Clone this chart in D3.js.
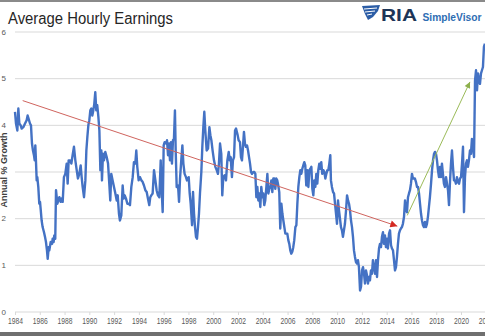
<!DOCTYPE html>
<html><head><meta charset="utf-8">
<script src="https://cdn.jsdelivr.net/npm/d3@7"></script>
<style>body{margin:0;background:#fff}svg{display:block}</style>
</head><body><svg id="c" width="485" height="336"></svg>
<script>
const years = [
1984.00,1984.08,1984.19,1984.27,1984.35,1984.46,1984.54,1984.67,1984.81,1984.94,
1985.02,1985.10,1985.21,1985.29,1985.37,1985.45,1985.53,1985.59,1985.64,1985.69,1985.75,1985.80,1985.88,1985.96,
1986.02,1986.07,1986.15,1986.23,1986.34,1986.42,1986.50,1986.58,1986.64,1986.72,1986.77,1986.88,1986.99,
1987.04,1987.12,1987.17,1987.25,1987.31,1987.42,1987.50,1987.58,1987.69,1987.77,1987.85,1987.95,
1988.06,1988.17,1988.25,1988.33,1988.44,1988.55,1988.65,1988.76,1988.87,1988.98,
1989.08,1989.19,1989.30,1989.38,1989.46,1989.57,1989.68,1989.76,1989.84,1989.92,
1990.00,1990.08,1990.16,1990.24,1990.32,1990.40,1990.48,1990.56,1990.64,1990.73,1990.81,1990.89,1990.97,
1991.02,1991.10,1991.18,1991.29,1991.40,1991.51,1991.61,1991.69,1991.77,1991.88,1991.99,
1992.10,1992.21,1992.29,1992.39,1992.47,1992.58,1992.69,1992.77,1992.85,1992.96,
1993.07,1993.17,1993.28,1993.39,1993.50,1993.60,1993.71,1993.79,1993.87,1993.98,
1994.09,1994.20,1994.30,1994.41,1994.52,1994.63,1994.73,1994.84,1994.92,
1995.00,1995.11,1995.22,1995.33,1995.43,1995.54,1995.65,1995.76,1995.84,1995.92,
1996.00,1996.08,1996.19,1996.27,1996.35,1996.43,1996.51,1996.59,1996.67,1996.75,1996.83,1996.91,1996.97,
1997.05,1997.16,1997.24,1997.32,1997.42,1997.51,1997.59,1997.69,1997.80,1997.88,
1998.02,1998.10,1998.18,1998.29,1998.37,1998.45,1998.53,1998.61,1998.69,1998.77,1998.85,1998.93,
1999.04,1999.12,1999.20,1999.28,1999.36,1999.47,1999.58,1999.69,1999.77,1999.85,1999.95,
2000.06,2000.17,2000.28,2000.38,2000.46,2000.55,2000.65,2000.73,2000.81,2000.92,
2001.03,2001.14,2001.25,2001.33,2001.41,2001.51,2001.59,2001.68,2001.76,2001.84,2001.97,
2002.05,2002.16,2002.24,2002.32,2002.40,2002.48,2002.56,2002.64,2002.73,2002.81,2002.89,2002.97,
2003.05,2003.13,2003.24,2003.32,2003.40,2003.48,2003.56,2003.64,2003.72,2003.80,2003.88,2003.96,
2004.04,2004.12,2004.20,2004.29,2004.37,2004.45,2004.53,2004.61,2004.69,2004.77,2004.85,2004.93,
2005.01,2005.09,2005.17,2005.25,2005.33,2005.41,2005.50,2005.58,2005.66,2005.74,2005.82,2005.90,2005.98,
2006.06,2006.14,2006.22,2006.30,2006.38,2006.46,2006.54,2006.63,2006.71,2006.79,2006.87,2006.95,
2007.03,2007.11,2007.19,2007.27,2007.35,2007.43,2007.51,2007.59,2007.68,2007.76,2007.84,2007.92,
2008.00,2008.08,2008.16,2008.24,2008.32,2008.40,2008.48,2008.56,2008.64,2008.72,2008.80,2008.89,2008.97,
2009.05,2009.13,2009.21,2009.29,2009.37,2009.45,2009.50,2009.58,2009.67,2009.75,2009.83,2009.91,2009.99,
2010.07,2010.15,2010.23,2010.31,2010.39,2010.47,2010.55,2010.63,2010.72,2010.80,2010.88,2010.96,
2011.04,2011.12,2011.20,2011.28,2011.36,2011.44,2011.52,2011.60,2011.68,2011.76,2011.85,2011.93,
2012.01,2012.09,2012.17,2012.25,2012.33,2012.41,2012.49,2012.57,2012.65,2012.73,2012.81,2012.89,2012.97,
2013.06,2013.14,2013.22,2013.30,2013.38,2013.46,2013.54,2013.62,2013.70,2013.78,2013.86,2013.94,
2014.02,2014.10,2014.19,2014.27,2014.35,2014.43,2014.51,2014.59,2014.67,2014.75,2014.83,2014.91,2014.99,
2015.07,2015.15,2015.23,2015.31,2015.40,2015.48,2015.56,2015.64,2015.72,2015.80,2015.88,2015.96,
2016.04,2016.12,2016.20,2016.28,2016.36,2016.45,2016.53,2016.61,2016.69,2016.77,2016.85,2016.93,
2017.01,2017.09,2017.17,2017.25,2017.33,2017.41,2017.49,2017.58,2017.66,2017.74,2017.82,2017.90,2017.98,
2018.06,2018.14,2018.22,2018.30,2018.38,2018.46,2018.54,2018.62,2018.70,2018.79,2018.87,2018.95,
2019.03,2019.11,2019.19,2019.27,2019.35,2019.43,2019.51,2019.59,2019.67,2019.75,2019.84,2019.92,
2020.00,2020.08,2020.16,2020.24,2020.32,2020.40,2020.48,2020.56,2020.64,2020.72,2020.80,2020.88,2020.96,
2021.05,2021.13,2021.21,2021.29,2021.37,2021.45,2021.53,2021.61,2021.69,2021.77,2021.85,2021.93
];
const values = [
4.29,4.04,3.89,4.36,4.04,4.0,3.93,3.96,4.04,4.11,
4.21,4.14,4.04,4.0,3.61,3.46,3.36,3.25,3.57,3.25,2.82,2.89,2.68,2.32,
2.36,2.21,1.96,1.82,1.71,1.61,1.5,1.32,1.14,1.39,1.32,1.5,1.46,
1.57,1.5,1.64,1.57,2.61,2.32,2.39,2.46,2.36,2.43,2.36,2.89,
2.96,3.18,2.75,3.25,3.25,3.18,3.36,3.54,3.25,3.04,
2.86,2.96,3.14,2.89,2.68,2.46,2.82,3.46,3.75,4.0,
4.11,4.32,4.36,4.21,4.32,4.46,4.71,4.32,4.43,4.18,3.89,3.04,3.46,
2.82,3.39,3.25,3.43,3.32,3.18,2.75,2.39,2.96,2.82,2.68,
2.54,2.39,2.5,2.11,1.96,2.07,2.71,2.43,2.5,2.43,
2.32,2.32,2.29,2.68,2.89,3.21,3.18,3.46,3.11,2.82,
2.89,2.82,2.79,2.71,2.61,2.57,2.43,2.29,2.46,
2.5,2.54,3.04,2.82,2.61,2.5,2.46,3.25,2.61,2.14,
3.57,3.64,3.61,3.68,3.36,3.61,3.25,3.64,3.18,3.68,3.71,4.32,3.46,
2.68,2.71,2.36,2.86,3.25,3.57,3.18,2.96,2.89,2.82,
2.89,2.54,2.32,1.86,2.57,2.11,1.82,1.61,1.57,1.82,2.11,2.54,
3.0,3.54,3.96,4.29,3.89,3.46,3.5,3.96,3.79,3.68,3.46,
3.25,3.11,3.04,2.96,3.18,3.61,3.39,2.5,2.89,2.93,
2.82,3.25,3.43,3.25,3.32,2.89,3.25,3.32,3.89,3.93,3.79,
3.68,3.64,3.32,3.25,3.54,3.86,3.61,3.54,3.57,3.46,3.32,3.18,
3.0,2.96,3.0,3.0,2.96,2.46,2.68,2.39,2.54,2.25,2.68,2.46,
2.54,2.29,2.39,2.68,2.96,2.54,2.64,2.68,2.82,2.57,2.86,2.86,
2.64,2.86,2.82,2.71,2.57,1.79,2.32,2.11,1.96,1.82,1.68,1.68,1.68,
1.54,1.46,1.32,1.25,1.29,1.39,1.54,1.82,1.86,2.32,2.68,2.89,
3.04,2.96,3.07,3.14,3.21,3.14,2.71,3.04,2.68,3.04,3.07,3.11,
2.64,2.5,2.82,2.68,2.96,2.75,3.04,3.18,3.07,3.21,2.96,3.04,3.0,
2.86,2.96,3.04,3.04,3.18,3.36,2.82,2.68,2.57,2.54,2.32,2.11,1.89,
2.39,2.18,2.0,1.82,1.75,1.61,1.75,1.89,2.18,2.5,2.39,2.32,
2.18,1.96,1.82,1.61,1.32,1.18,1.07,1.04,1.11,0.96,0.46,0.54,
0.89,0.96,0.82,0.61,0.89,0.79,0.61,0.75,0.68,0.89,0.82,1.11,0.96,
0.82,1.11,0.75,1.11,1.36,1.46,1.39,1.61,1.71,1.46,1.64,1.39,
1.57,1.36,1.68,1.75,1.43,1.36,1.32,1.11,0.89,0.96,1.18,1.46,1.68,
1.75,1.79,1.82,1.89,2.04,2.39,2.18,2.14,2.46,2.54,2.61,2.75,
2.96,2.86,2.86,2.86,2.79,2.68,2.68,2.54,2.32,2.11,1.96,1.86,
1.82,1.93,1.82,1.89,2.04,2.25,2.46,2.75,3.04,3.25,3.39,3.43,3.39,
3.25,3.04,2.89,3.11,2.89,3.18,2.96,2.75,2.68,2.89,2.75,2.61,
2.29,2.79,3.18,3.46,3.11,2.82,2.82,2.75,2.89,2.79,2.75,2.86,
2.89,3.18,3.54,2.14,2.89,3.18,3.25,3.11,3.25,3.46,3.39,3.71,3.54,
3.32,4.96,5.18,4.75,5.11,4.96,4.89,5.11,5.18,5.25,5.68,5.75
];
const yTicks = [0,1,2,3,4,5,6];
const xTicks = d3.range(1984, 2023, 2);
const downTrendYears = [1984.62, 2014.86];
const downTrendValues = [4.53, 1.84];
const upTrendYears = [2015.66, 2020.72];
const upTrendValues = [2.07, 4.93];

const svg = d3.select("#c");
const x = d3.scaleLinear().domain([1984, 2022]).range([15, 485.8]);
const y = d3.scaleLinear().domain([0, 6]).range([312, 32]);

// frame bands
svg.append("rect").attr("x",0).attr("y",0).attr("width",485).attr("height",2).attr("fill","#8a8a8a");
svg.append("rect").attr("x",0).attr("y",332).attr("width",485).attr("height",4).attr("fill","#6f6f6f");

// gridlines
svg.append("g").selectAll("line").data(yTicks).join("line")
  .attr("x1",15).attr("x2",485).attr("y1",d=>y(d)).attr("y2",d=>y(d))
  .attr("stroke","#d9d9d9").attr("stroke-width",1);

// y tick labels
svg.append("g").selectAll("text").data(yTicks).join("text")
  .attr("x",3.8).attr("y",d=>y(d)).attr("dy","0.35em")
  .attr("text-anchor","middle").attr("font-family","Liberation Sans, Arial, sans-serif")
  .attr("font-size",8).attr("fill","#595959").text(d=>d);

// x axis
const xAxis = d3.axisBottom(x).tickValues(xTicks).tickFormat(d3.format("d")).tickSize(3).tickPadding(3);
const gx = svg.append("g").attr("transform","translate(0,312)").call(xAxis);
gx.select(".domain").remove();
gx.selectAll(".tick line").attr("stroke","#d9d9d9");
gx.selectAll(".tick text").attr("font-family","Liberation Sans, Arial, sans-serif")
  .attr("font-size",9).attr("fill","#595959").attr("textLength",15).attr("lengthAdjust","spacingAndGlyphs");

// markers
const defs = svg.append("defs");
function mk(id, color, w, h){
  defs.append("marker").attr("id",id).attr("viewBox","0 0 10 10").attr("refX",10).attr("refY",5)
    .attr("markerWidth",w).attr("markerHeight",h).attr("markerUnits","userSpaceOnUse").attr("orient","auto")
    .append("path").attr("d","M0,0 L10,5 L0,10 Z").attr("fill",color);
}
mk("arR","#d42a22",9,7);
mk("arG","#8db04c",8,6);

// series
const pts = years.map((t,i)=>[t, values[i]]);
const line = d3.line().x(d=>x(d[0])).y(d=>y(d[1]));
svg.append("path").datum(pts).attr("d",line).attr("fill","none")
  .attr("stroke","#4472c4").attr("stroke-width",2.4).attr("stroke-linejoin","round");

// trend arrows
svg.append("path").datum(downTrendYears.map((t,i)=>[t,downTrendValues[i]])).attr("d",line)
  .attr("fill","none").attr("stroke","#d0645e").attr("stroke-width",1).attr("marker-end","url(#arR)");
svg.append("path").datum(upTrendYears.map((t,i)=>[t,upTrendValues[i]])).attr("d",line)
  .attr("fill","none").attr("stroke","#9bbb59").attr("stroke-width",1).attr("marker-end","url(#arG)");

// y axis title
svg.append("text").attr("transform","translate(7,170) rotate(-90)")
  .attr("text-anchor","middle").attr("font-family","Liberation Sans, Arial, sans-serif")
  .attr("font-weight","bold").attr("font-size",9).attr("fill","#404040")
  .attr("stroke","#fff").attr("stroke-width",2.5).attr("paint-order","stroke")
  .text("Annual % Growth");

// title
svg.append("text").attr("x",8).attr("y",24).attr("font-family","Liberation Sans, Arial, sans-serif")
  .attr("font-size",16).attr("fill","#262626").attr("textLength",165).attr("lengthAdjust","spacingAndGlyphs")
  .text("Average Hourly Earnings");

// logo
const lg = svg.append("g");
lg.append("path").attr("d","M362,6 L380,5 L378,11 L373,17 L368,20 L365,14 Z").attr("fill","#2c5da6");
lg.append("path").attr("d","M364,9 L377,8 M365,12 L375,11 M367,15 L372,14").attr("stroke","#fff").attr("stroke-width",1);
lg.append("text").attr("x",381).attr("y",21).attr("font-family","Liberation Sans, Arial, sans-serif")
  .attr("font-weight","bold").attr("font-size",17).attr("fill","#1d3557").attr("textLength",36).attr("lengthAdjust","spacingAndGlyphs").text("RIA");
lg.append("text").attr("x",422.5).attr("y",21).attr("font-family","Liberation Sans, Arial, sans-serif")
  .attr("font-weight","bold").attr("font-size",11).attr("fill","#2f6db3").attr("textLength",59).attr("lengthAdjust","spacingAndGlyphs").text("SimpleVisor");
</script>
</body></html>
